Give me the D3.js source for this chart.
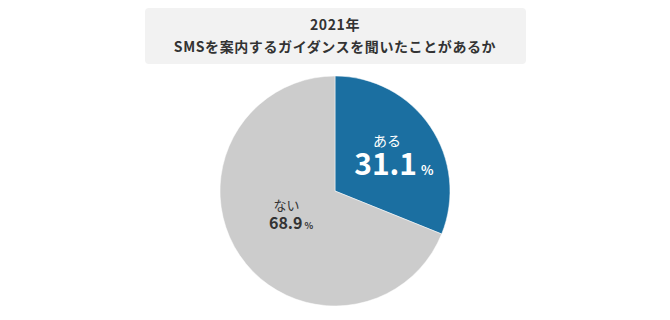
<!DOCTYPE html>
<html>
<head>
<meta charset="utf-8">
<script src="https://cdn.jsdelivr.net/npm/d3@7"></script>
<style>
  body { margin: 0; background: #fff; }
  text { font-family: "Noto Sans CJK JP", "Noto Sans", sans-serif; }
</style>
</head>
<body>
<div id="chart"></div>
<script>
var titleLines = ["2021年", "SMSを案内するガイダンスを聞いたことがあるか"];
var categories = ["ある", "ない"];
var values = [31.1, 68.9];
var colors = ["#1b6fa1", "#cccccc"];

var width = 670, height = 320;
var cx = 335, cy = 191, radius = 115;

var svg = d3.select("#chart")
    .append("svg")
    .attr("width", width)
    .attr("height", height);

// title box
svg.append("rect")
    .attr("x", 145)
    .attr("y", 8)
    .attr("width", 381)
    .attr("height", 56)
    .attr("rx", 4)
    .attr("fill", "#f2f2f2");

svg.selectAll(".title")
    .data(titleLines)
    .enter()
    .append("text")
    .attr("class", "title")
    .attr("x", cx)
    .attr("y", function (d, i) { return 30 + i * 22; })
    .attr("text-anchor", "middle")
    .attr("font-size", 14)
    .attr("font-weight", "bold")
    .attr("fill", "#333")
    .style("letter-spacing", "0.6px")
    .text(function (d) { return d; });

var data = categories.map(function (c, i) {
    return { name: c, value: values[i], color: colors[i] };
});

var pie = d3.pie()
    .sort(null)
    .value(function (d) { return d.value; });

var arc = d3.arc().innerRadius(0).outerRadius(radius);

var g = svg.append("g")
    .attr("transform", "translate(" + cx + "," + cy + ")");

var arcs = pie(data);

g.selectAll("path")
    .data(arcs)
    .enter()
    .append("path")
    .attr("d", arc)
    .attr("fill", function (d) { return d.data.color; })
    .attr("stroke", "#fff")
    .attr("stroke-width", 0.5);

// labels
var labelArc = d3.arc().innerRadius(radius * 0.55).outerRadius(radius * 0.55);

var big = arcs[0];
var p0 = labelArc.centroid(big);
g.append("text")
    .attr("text-anchor", "middle")
    .attr("x", p0[0] - 0.5)
    .attr("y", p0[1] - 10)
    .attr("font-size", 14)
    .attr("fill", "#fff")
    .text(big.data.name);
var t0 = g.append("text")
    .attr("text-anchor", "middle")
    .attr("x", p0[0] + 6.5)
    .attr("y", p0[1] + 19.5)
    .attr("fill", "#fff")
    .attr("font-weight", "bold");
t0.append("tspan").attr("font-size", 30).text(big.data.value.toFixed(1));
t0.append("tspan").attr("font-size", 13).attr("dx", 4).text("%");

var small = arcs[1];
var p1 = labelArc.centroid(small);
g.append("text")
    .attr("text-anchor", "middle")
    .attr("x", p1[0] + 4)
    .attr("y", p1[1] - 16.5)
    .attr("font-size", 13)
    .attr("fill", "#333")
    .text(small.data.name);
var t1 = g.append("text")
    .attr("text-anchor", "middle")
    .attr("x", p1[0] + 8.5)
    .attr("y", p1[1] + 2.5)
    .attr("fill", "#333")
    .attr("font-weight", "bold");
t1.append("tspan").attr("font-size", 16).text(small.data.value.toFixed(1));
t1.append("tspan").attr("font-size", 9).attr("dx", 2).text("%");
</script>
</body>
</html>
